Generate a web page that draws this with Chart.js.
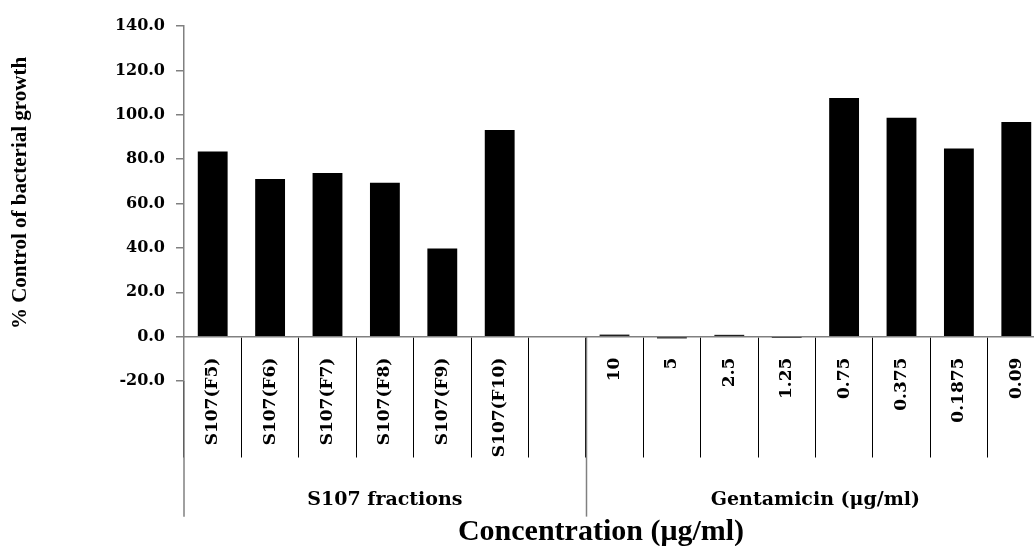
<!DOCTYPE html>
<html lang="en">
<head>
  <meta charset="UTF-8">
  <title>% Control of bacterial growth</title>
  <script src="https://cdn.jsdelivr.net/npm/chart.js"></script>
  <style>
    html, body { margin: 0; padding: 0; background: #fff; overflow: hidden; }
    .container { width: 1060px; height: 546px; }
  </style>
</head>
<body>
  <div class="container">
    <canvas id="growthChart" width="1060" height="546"></canvas>
  </div>

  <script>
    // categories (blank one is the gap between the two groups)
    const categories = ["S107(F5)", "S107(F6)", "S107(F7)", "S107(F8)", "S107(F9)", "S107(F10)", "",
                        "10", "5", "2.5", "1.25", "0.75", "0.375", "0.1875", "0.09"];
    const growth = [83.4, 71.0, 73.7, 69.4, 39.7, 93.1, null,
                    0.9, -0.8, 0.8, -0.6, 107.5, 98.7, 84.8, 96.7];
    const groups = ["S107 fractions", "Gentamicin (μg/ml)"];
    const groupSizes = [7, 8];
    const yTicks = [-20, 0, 20, 40, 60, 80, 100, 120, 140];

    const serif = "'DejaVu Serif', 'Liberation Serif', serif";
    const titleSerif = "'Liberation Serif', 'DejaVu Serif', serif";

    // 1. Group separators, group names and both axis titles
    const groupAxis = {
      id: "groupAxis",
      afterDraw(chart) {
        const ctx = chart.ctx;
        const x = chart.scales.x;
        const y = chart.scales.y;
        const zero = y.getPixelForValue(0);
        const bottom = zero + 180;
        const edge = i => i === 0 ? x.left : (x.getPixelForValue(i - 1) + x.getPixelForValue(i)) / 2;

        ctx.save();
        ctx.strokeStyle = "#808080";
        ctx.lineWidth = 1.5;
        ctx.beginPath();
        ctx.moveTo(x.left, y.bottom);
        ctx.lineTo(x.left, bottom);
        ctx.stroke();

        ctx.fillStyle = "#000";
        ctx.textAlign = "center";
        ctx.textBaseline = "middle";
        ctx.font = "bold 19px " + serif;
        let start = 0;
        groups.forEach((name, g) => {
          const end = start + groupSizes[g];
          const left = edge(start);
          const right = end >= categories.length ? x.right : edge(end);
          if (g > 0) {
            ctx.beginPath();
            ctx.moveTo(Math.round(left) + 0.5, zero);
            ctx.lineTo(Math.round(left) + 0.5, bottom);
            ctx.stroke();
          }
          ctx.fillText(name, (left + right) / 2, zero + 163);
          start = end;
        });

        ctx.font = "bold 30px " + titleSerif;
        ctx.fillText("Concentration (μg/ml)", 601, 532);

        ctx.translate(21, 193);
        ctx.rotate(-Math.PI / 2);
        ctx.font = "bold 21px " + titleSerif;
        ctx.fillText("% Control of bacterial growth", 0, 0);
        ctx.restore();
      }
    };

    const ctx = document.getElementById("growthChart").getContext("2d");
    new Chart(ctx, {
      type: "bar",
      data: {
        labels: categories,
        datasets: [{
          label: "% Control of bacterial growth",
          data: growth,
          backgroundColor: "#000",
          borderWidth: 0,
          barPercentage: 0.52,
          categoryPercentage: 1
        }]
      },
      options: {
        responsive: false,
        animation: false,
        layout: { padding: { top: 26, right: 15, bottom: 165, left: 0 } },
        plugins: { legend: { display: false }, tooltip: { enabled: false } },
        scales: {
          x: {
            position: { y: 0 },
            grid: {
              offset: true,
              drawOnChartArea: false,
              tickLength: 120,
              color: "#000",
              lineWidth: 1
            },
            border: { color: "#808080", width: 1.5 },
            ticks: {
              autoSkip: false,
              minRotation: 90,
              maxRotation: 90,
              padding: -99,
              color: "#000",
              font: { family: serif, size: 17, weight: "bold" }
            }
          },
          y: {
            min: -20,
            max: 140,
            afterFit(s) { s.width = 184; },
            afterBuildTicks(s) { s.ticks = yTicks.map(v => ({ value: v })); },
            grid: { drawOnChartArea: false, tickLength: 8, color: "#808080", lineWidth: 1.5 },
            border: { color: "#808080", width: 1.5 },
            ticks: {
              padding: 11,
              color: "#000",
              font: { family: serif, size: 16, weight: "bold" },
              callback: v => v.toFixed(1)
            }
          }
        }
      },
      plugins: [groupAxis]
    });
  </script>
</body>
</html>
